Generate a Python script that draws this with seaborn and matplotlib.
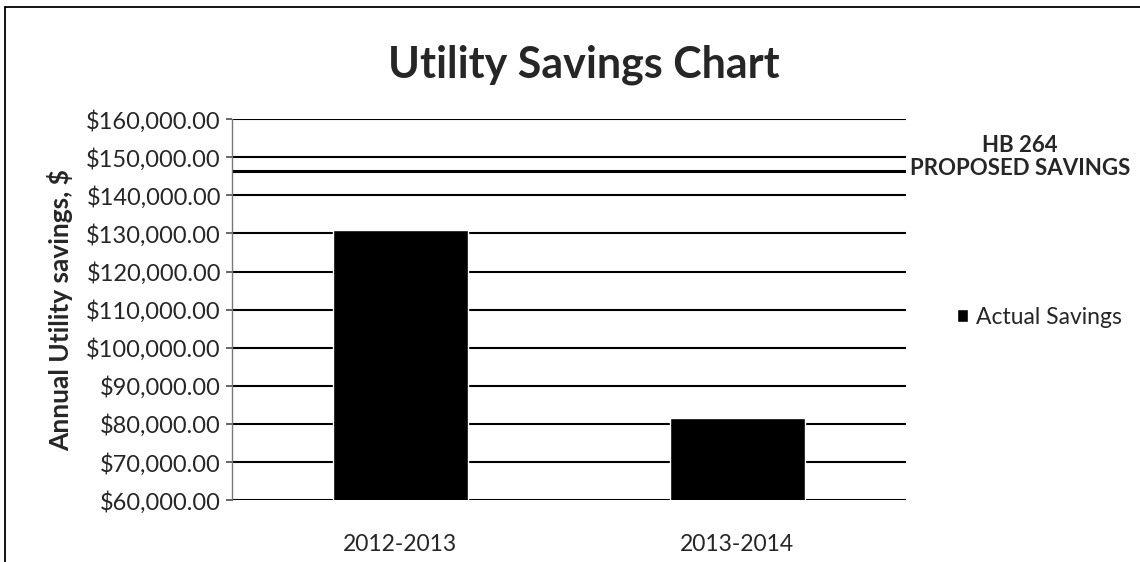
import matplotlib.pyplot as plt
import seaborn as sns
import pandas as pd
from matplotlib.lines import Line2D
from matplotlib.ticker import FuncFormatter

# values
years = ["2012-2013", "2013-2014"]
actual_savings = [131000, 81500]
proposed_savings = 146500
y_ticks = list(range(60000, 160001, 10000))

df = pd.DataFrame({"year": years, "savings": actual_savings, "series": "Actual Savings"})

sns.set_theme(style="white")
plt.rcParams["font.family"] = ["Lato", "DejaVu Sans"]

fig = plt.figure(figsize=(11.4, 5.62), dpi=100)
ax = fig.add_axes([0.2035, 0.11, 0.591, 0.678])

sns.barplot(data=df, x="year", y="savings", hue="series", palette=["black"],
            width=0.4, ax=ax, saturation=1)

ax.set_ylim(60000, 160000)
ax.set_yticks(y_ticks)
ax.yaxis.set_major_formatter(FuncFormatter(lambda v, p: f"${v:,.2f}"))
ax.grid(axis="y", color="black", linewidth=1.5)
ax.set_axisbelow(True)

ax.axhline(proposed_savings, color="black", linewidth=2.2, linestyle="-")

for s in ["top", "right", "bottom"]:
    ax.spines[s].set_visible(False)
ax.spines["left"].set_color("#777777")
ax.spines["left"].set_linewidth(1)
ax.tick_params(axis="y", left=True, length=4, color="#555555", labelsize=17, pad=4)
ax.tick_params(axis="x", bottom=False, labelsize=16.5, pad=18)

ax.set_xlabel("")
ax.set_ylabel("Annual Utility savings, $", fontsize=19, fontweight="bold", labelpad=9)

fig.text(0.512, 0.884, "Utility Savings Chart", ha="center", va="center",
         fontsize=31, fontweight="bold")

ax.text(1.17, 0.90, "HB 264\nPROPOSED SAVINGS",
        transform=ax.transAxes, ha="center", va="center", fontsize=16,
        fontweight="bold", linespacing=1.1)

leg = ax.legend(loc="center left", bbox_to_anchor=(1.045, 0.48), frameon=False,
                fontsize=16.5, handlelength=0.5, handleheight=0.5, handletextpad=0.35)

# outer frame: only left and top edges are visible in the scan
fig.add_artist(Line2D([0.004, 0.004], [0.0, 0.988], transform=fig.transFigure,
                      color="black", linewidth=1.3))
fig.add_artist(Line2D([0.004, 1.0], [0.988, 0.988], transform=fig.transFigure,
                      color="black", linewidth=1.3))

plt.savefig("out.png", dpi=100)
